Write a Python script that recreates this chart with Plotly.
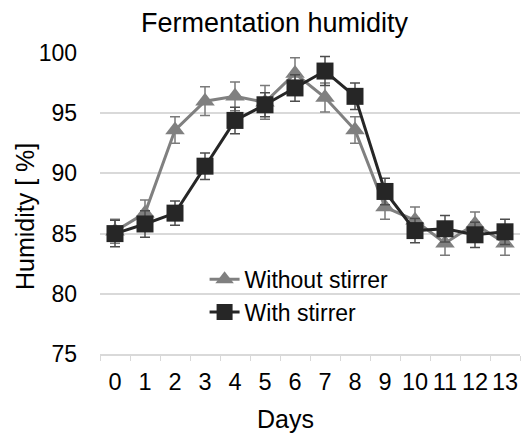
import plotly.graph_objects as go

days = [str(d) for d in range(14)]
without_stirrer = [85.2, 86.7, 93.6, 96.0, 96.4, 95.9, 98.3, 96.3, 93.6, 87.2, 86.1, 84.2, 85.8, 84.2]
without_err = [1.0, 1.1, 1.1, 1.2, 1.2, 1.4, 1.3, 1.2, 1.1, 1.0, 1.1, 1.0, 1.0, 1.0]
with_stirrer = [85.0, 85.8, 86.7, 90.6, 94.4, 95.7, 97.1, 98.5, 96.4, 88.5, 85.25, 85.4, 84.9, 85.15]
with_err = [1.1, 1.1, 1.0, 1.1, 1.1, 1.0, 1.1, 1.2, 1.1, 1.1, 1.0, 1.1, 1.05, 1.05]

FONT = "Liberation Sans, Arial, sans-serif"

fig = go.Figure()
fig.add_trace(go.Scatter(
    x=days, y=without_stirrer, name="Without stirrer", mode="lines+markers",
    line=dict(color="#808080", width=3),
    marker=dict(symbol="triangle-up", size=17, color="#808080"),
    error_y=dict(type="data", array=without_err, visible=True, color="#7a7a7a", thickness=1.5, width=5),
    cliponaxis=False,
))
fig.add_trace(go.Scatter(
    x=days, y=with_stirrer, name="With stirrer", mode="lines+markers",
    line=dict(color="#262626", width=3),
    marker=dict(symbol="square", size=17, color="#262626"),
    error_y=dict(type="data", array=with_err, visible=True, color="#4d4d4d", thickness=1.5, width=5),
    cliponaxis=False,
))

W, H = 521, 434
L, R, T = 100, 1, 53
B = H - T - 301
pw, ph = W - L - R, H - T - B

fig.update_layout(
    width=W, height=H,
    margin=dict(l=L, r=R, t=T, b=B, autoexpand=False),
    paper_bgcolor="white", plot_bgcolor="white",
    font=dict(family=FONT, size=23, color="black"),
    showlegend=True,
    legend=dict(x=0.249, y=0.320, xanchor="left", yanchor="top",
                bgcolor="rgba(0,0,0,0)", font=dict(size=23), tracegroupgap=0),
    xaxis=dict(
        type="category", range=[-0.5, 13.5], automargin=False,
        showline=True, linecolor="#d9d9d9", linewidth=1.5,
        ticks="outside", tickson="boundaries", ticklen=5, tickcolor="#d9d9d9",
        showgrid=False, tickfont=dict(size=23.5), tickangle=0, zeroline=False,
        ticklabelstandoff=6,
    ),
    yaxis=dict(
        range=[75, 100], dtick=5, tick0=75, automargin=False,
        showgrid=True, gridcolor="#d9d9d9", gridwidth=1.5,
        showline=False, zeroline=False, ticks="", ticklabelstandoff=22,
        tickfont=dict(size=23),
    ),
)

# annotation positions given in window pixels, converted to paper coordinates
ann_specs = [
    ("Fermentation humidity", 275, 23, 0, 27),
    ("Days", 285, 419, 0, 25),
    ("Humidity [ %]", 25, 217, -90, 25),
]
anns = []
for text, px, py, ang, size in ann_specs:
    anns.append(dict(text=text, x=(px - L) / pw, y=(H - B - py) / ph,
                     xref="paper", yref="paper", xanchor="center", yanchor="middle",
                     showarrow=False, textangle=ang, font=dict(size=size)))
fig.update_layout(annotations=anns)

fig.write_html(
    "out.html",
    config={"displayModeBar": False},
    post_script="document.body.style.margin='0';document.documentElement.style.overflow='hidden';",
)
